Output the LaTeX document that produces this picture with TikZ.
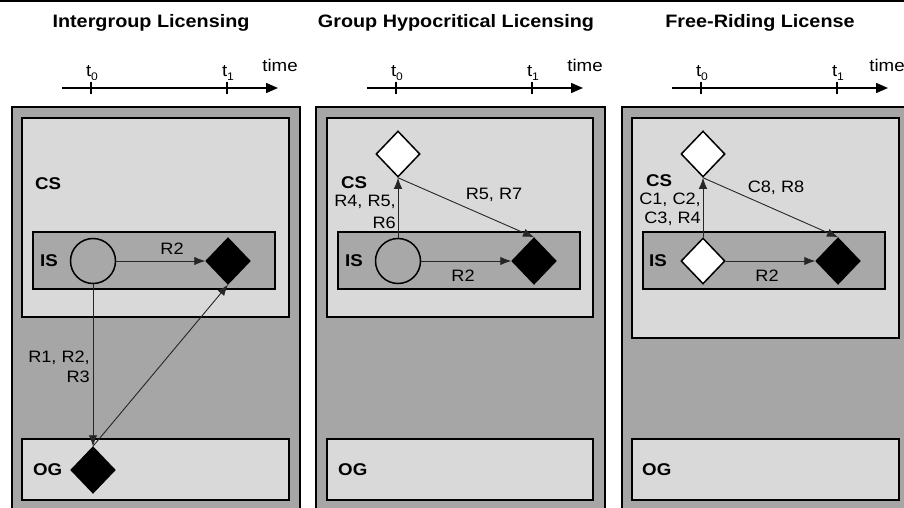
\documentclass[tikz,border=0pt]{standalone}
\usepackage{fontspec}
\setmainfont[FakeStretch=1.1]{Liberation Sans}
\usetikzlibrary{arrows.meta,shapes.geometric}

\definecolor{outergray}{HTML}{A6A6A6}
\definecolor{zonegray}{HTML}{D9D9D9}
\definecolor{innergray}{HTML}{A8A8A8}

\tikzset{
  panel/.style={draw=black, line width=2.5pt, fill=outergray},
  zone/.style={draw=black, line width=2pt, fill=zonegray},
  isbox/.style={draw=black, line width=2pt, fill=innergray},
  dia/.style={diamond, draw=black, line width=1.5pt, minimum width=44pt, minimum height=46pt, inner sep=0pt},
  bdia/.style={dia, fill=black},
  wdia/.style={dia, fill=white},
  circ/.style={circle, draw=black, line width=1.5pt, fill=innergray, minimum size=45pt, inner sep=0pt},
  rel/.style={draw=black!85, line width=0.9pt, -{Latex[length=11pt,width=8.5pt]}},
  lbl/.style={font=\fontsize{16.5}{18}\selectfont, inner sep=0pt},
  tag/.style={font=\bfseries\fontsize{17}{18}\selectfont, inner sep=0pt, anchor=west},
  ttl/.style={font=\bfseries\fontsize{18}{20}\selectfont, inner sep=0pt},
  axis/.style={line width=1.5pt, -{Triangle[length=12pt,width=10pt]}},
  tick/.style={line width=1.5pt},
  tlbl/.style={font=\fontsize{17}{18}\selectfont, inner sep=0pt, anchor=base},
}
\newcommand\tsub[1]{t\raisebox{-0.4ex}{\fontsize{11}{11}\selectfont #1}}

\begin{document}
\begin{tikzpicture}[x=1pt,y=-1pt]
\useasboundingbox (0,0) rectangle (904,508);
\clip (0,0) rectangle (904,508);
\fill[black] (0,0) rectangle (904,2.5);

% titles
\node[ttl] (ttl1) at (151,23) {Intergroup Licensing};
\node[ttl] (ttl2) at (456,23) {Group Hypocritical Licensing};
\node[ttl] (ttl3) at (760,23) {Free-Riding License};

% time axes
\foreach \o/\n/\dx in {91/1/0,396/2/0,701/3/-3}{
  \coordinate (ax\n s) at (\o-29,88);
  \coordinate (ax\n e) at (\o+187,88);
  \coordinate (t0\n) at (\o,88);
  \coordinate (t1\n) at (\o+136,88);
  \draw[axis] (ax\n s) -- (ax\n e);
  \draw[tick] ([yshift=-6pt]t0\n) -- ([yshift=6pt]t0\n);
  \draw[tick] ([yshift=-6pt]t1\n) -- ([yshift=6pt]t1\n);
  \node[tlbl] (lt0\n) at (\o+1,77) {\tsub{0}};
  \node[tlbl] (lt1\n) at (\o+137,77) {\tsub{1}};
  \node[tlbl] (ltime\n) at (\o+189+\dx,72) {time};
}

% ---------- Intergroup Licensing ----------
\draw[panel] (12,107) rectangle (300,530);
\draw[zone] (22,118) rectangle (289,317);
\draw[isbox] (33,232) rectangle (275,289);
\draw[zone] (22,439) rectangle (289,500);
\node[tag] (cs1) at (35,184) {CS};
\node[tag] (is1) at (40,261) {IS};
\node[tag] (og1) at (33,470) {OG};
\node[circ] (c1) at (93,261) {};
\node[bdia] (b1) at (228,261) {};
\node[bdia] (d1) at (93,470) {};
\draw[rel] (c1) -- (b1);
\draw[rel] (c1.south) -- (d1.north);
\draw[rel] (d1.north) -- (b1.south);
\node[lbl] (r1a) at (172,249) {R2};
\node[lbl, align=right, anchor=east, font=\fontsize{16.5}{20}\selectfont] (r1b) at (90,367) {R1, R2,\\R3};

% ---------- Group Hypocritical Licensing ----------
\draw[panel] (316,107) rectangle (605,530);
\draw[zone] (327,118) rectangle (593,317);
\draw[isbox] (338,232) rectangle (580,289);
\draw[zone] (327,439) rectangle (593,500);
\node[tag] (cs2) at (341,183) {CS};
\node[tag] (is2) at (345,261) {IS};
\node[tag] (og2) at (338,470) {OG};
\node[circ] (c2) at (398,261) {};
\node[bdia] (b2) at (534,261) {};
\node[wdia] (w2) at (398,154) {};
\draw[rel] (c2.north) -- (w2.south);
\draw[rel] (w2.south) -- (b2.north);
\draw[rel] (c2) -- (b2);
\node[lbl] (r2a) at (463,276) {R2};
\node[lbl] (r2b) at (494,195) {R5, R7};
\node[lbl, align=right, anchor=east, font=\fontsize{16.5}{22}\selectfont] (r2c) at (396,212) {R4, R5,\\R6};

% ---------- Free-Riding License ----------
\draw[panel] (622,107) rectangle (915,530);
\draw[zone] (632,118) rectangle (899,338);
\draw[isbox] (643,232) rectangle (885,289);
\draw[zone] (632,439) rectangle (899,500);
\node[tag] (cs3) at (646,181) {CS};
\node[tag] (is3) at (649,261) {IS};
\node[tag] (og3) at (642,470) {OG};
\node[wdia] (s3) at (703,261) {};
\node[bdia] (b3) at (838,261) {};
\node[wdia] (w3) at (703,154) {};
\draw[rel] (s3.north) -- (w3.south);
\draw[rel] (w3.south) -- (b3.north);
\draw[rel] (s3) -- (b3);
\node[lbl] (r3a) at (767,276) {R2};
\node[lbl] (r3b) at (776,188) {C8, R8};
\node[lbl, align=right, anchor=east, font=\fontsize{16.5}{19}\selectfont] (r3c) at (701,209) {C1, C2,\\C3, R4};
\end{tikzpicture}
\end{document}
